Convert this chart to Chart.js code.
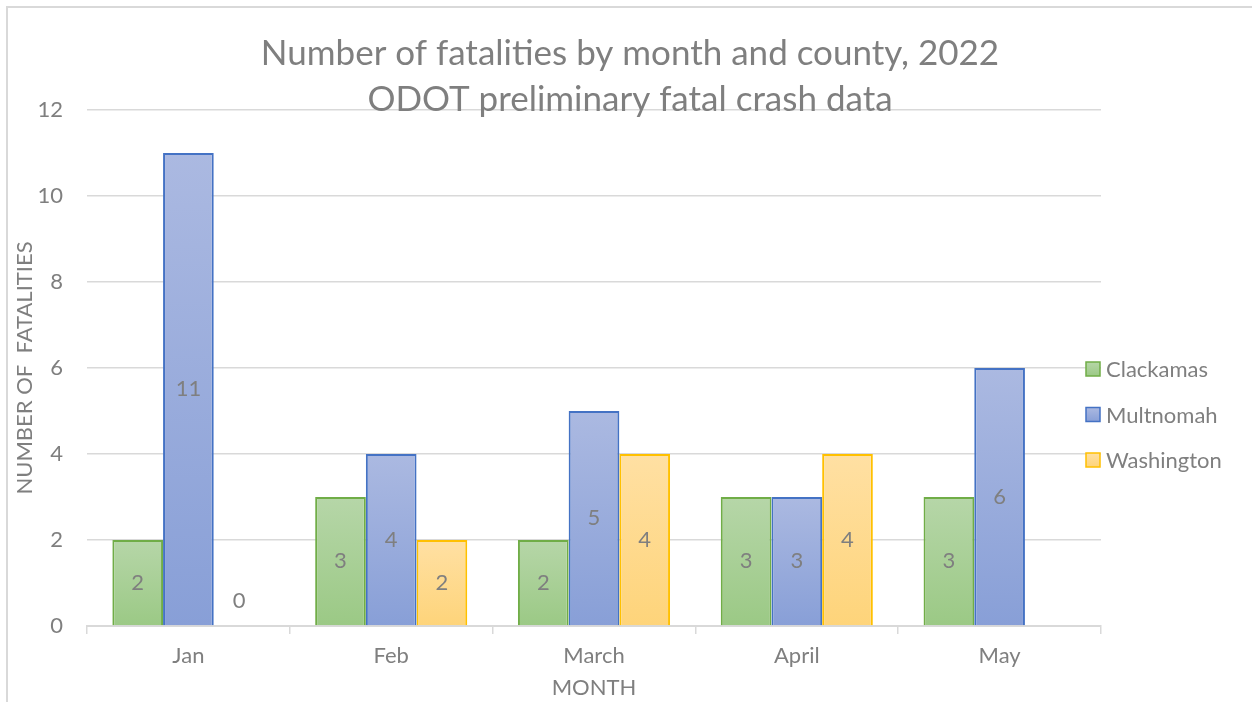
<!DOCTYPE html>
<html>
<head>
<meta charset="utf-8">
<script src="https://cdn.jsdelivr.net/npm/chart.js@4/dist/chart.umd.min.js"></script>
<style>
  html, body { margin: 0; padding: 0; background: #fff; }
  #wrap { position: relative; width: 1252px; height: 702px; overflow: hidden; }
  #frame { position: absolute; left: 6px; top: 6px; width: 1300px; height: 800px;
           border-left: 2px solid #d9d9d9; border-top: 2px solid #d9d9d9; }
  canvas { position: absolute; left: 0; top: 0; }
</style>
</head>
<body>
<div id="wrap">
  <div id="frame"></div>
  <canvas id="grafico" width="1252" height="702"></canvas>
</div>
<script>
// datos
const TITLE_LINES = ['Number of fatalities by month and county, 2022', 'ODOT preliminary fatal crash data'];
const MONTHS = ['Jan', 'Feb', 'March', 'April', 'May'];
const CLACKAMAS = [2, 3, 2, 3, 3];
const MULTNOMAH = [11, 4, 5, 3, 6];
const WASHINGTON = [0, 2, 4, 4, null];
const Y_TICKS = [0, 2, 4, 6, 8, 10, 12];

const GREY = '#7f7f7f';
const FONT = 'Lato, "Open Sans", sans-serif';

// colores: [arriba, abajo, borde]
const PALETA = {
  Clackamas:  ['#b6d6a8', '#9bc985', '#70ad47'],
  Multnomah:  ['#abb9e1', '#889fd7', '#4472c4'],
  Washington: ['#ffe0a3', '#fed47a', '#ffc000'],
};

// degradado por barra (claro arriba, oscuro abajo)
function fondoBarra(nombre) {
  return (ctx) => {
    const [top, bottom] = PALETA[nombre];
    const chart = ctx.chart;
    const y = chart.scales && chart.scales.y;
    if (!chart.chartArea || !y || ctx.raw == null) return bottom;
    const y0 = y.getPixelForValue(0);
    const y1 = y.getPixelForValue(ctx.raw);
    if (Math.abs(y0 - y1) < 1) return bottom;
    const g = chart.ctx.createLinearGradient(0, y1, 0, y0);
    g.addColorStop(0, top);
    g.addColorStop(1, bottom);
    return g;
  };
}

const serie = (nombre, datos) => ({
  label: nombre,
  data: datos,
  backgroundColor: fondoBarra(nombre),
  borderColor: PALETA[nombre][2],
  borderWidth: 2,
  borderSkipped: 'bottom',
});

const tituloPlugin = {
  id: 'tituloPlugin',
  afterDraw(chart) {
    const c = chart.ctx;
    c.save();
    c.fillStyle = GREY;
    c.font = `35px ${FONT}`;
    c.textAlign = 'center';
    c.textBaseline = 'middle';
    TITLE_LINES.forEach((t, i) => c.fillText(t, 630, 54 + i * 45.5));
    c.restore();
  }
};

const etiquetasPlugin = {
  id: 'etiquetasPlugin',
  afterDatasetsDraw(chart) {
    const c = chart.ctx;
    c.save();
    c.fillStyle = GREY;
    c.font = `22px ${FONT}`;
    c.textAlign = 'center';
    c.textBaseline = 'middle';
    chart.data.datasets.forEach((ds, di) => {
      chart.getDatasetMeta(di).data.forEach((el, i) => {
        const v = ds.data[i];
        if (v == null) return;
        const y = v === 0 ? el.base - 25 : (el.y + el.base) / 2;
        c.fillText(String(v), el.x, y);
      });
    });
    c.restore();
  }
};

const leyendaPlugin = {
  id: 'leyendaPlugin',
  afterDraw(chart) {
    const c = chart.ctx;
    c.save();
    c.font = `22px ${FONT}`;
    c.textBaseline = 'middle';
    c.textAlign = 'left';
    chart.data.datasets.forEach((ds, i) => {
      const [top, bottom, borde] = PALETA[ds.label];
      const cy = 369 + i * 45.5;
      const g = c.createLinearGradient(0, cy - 7, 0, cy + 7);
      g.addColorStop(0, top);
      g.addColorStop(1, bottom);
      c.fillStyle = g;
      c.fillRect(1086, cy - 7, 14, 14);
      c.strokeStyle = borde;
      c.lineWidth = 1.5;
      c.strokeRect(1086, cy - 7, 14, 14);
      c.fillStyle = GREY;
      c.fillText(ds.label, 1106, cy + 1);
    });
    c.restore();
  }
};

new Chart(document.getElementById('grafico'), {
  type: 'bar',
  data: {
    labels: MONTHS,
    datasets: [
      serie('Clackamas', CLACKAMAS),
      serie('Multnomah', MULTNOMAH),
      serie('Washington', WASHINGTON),
    ]
  },
  options: {
    responsive: false,
    animation: false,
    devicePixelRatio: 1,
    layout: { padding: { top: 110, right: 151, bottom: 1, left: 0 } },
    datasets: { bar: { categoryPercentage: 0.75, barPercentage: 1.0 } },
    plugins: { legend: { display: false }, tooltip: { enabled: false }, title: { display: false } },
    scales: {
      x: {
        afterFit: (s) => { s.height = 75; },
        grid: { display: true, offset: true, drawOnChartArea: false, drawTicks: true,
                tickLength: 8, color: '#d9d9d9', lineWidth: 1.5 },
        border: { display: true, color: '#d9d9d9', width: 2 },
        ticks: { color: GREY, font: { family: FONT, size: 22 }, padding: 9 },
        title: { display: true, text: 'MONTH', color: GREY,
                 font: { family: FONT, size: 22 }, padding: { top: 0, bottom: 0 } }
      },
      y: {
        min: 0, max: 12,
        afterFit: (s) => { s.width = 87; },
        afterBuildTicks: (s) => { s.ticks = Y_TICKS.map(v => ({ value: v })); },
        grid: { color: '#d9d9d9', lineWidth: 1.5, drawTicks: false },
        border: { display: false },
        ticks: { color: GREY, font: { family: FONT, size: 22 }, padding: 24 },
        title: { display: true, text: 'NUMBER OF  FATALITIES', color: GREY,
                 font: { family: FONT, size: 22 }, padding: { top: 12, bottom: 0 } }
      }
    }
  },
  plugins: [tituloPlugin, etiquetasPlugin, leyendaPlugin]
});
</script>
</body>
</html>
